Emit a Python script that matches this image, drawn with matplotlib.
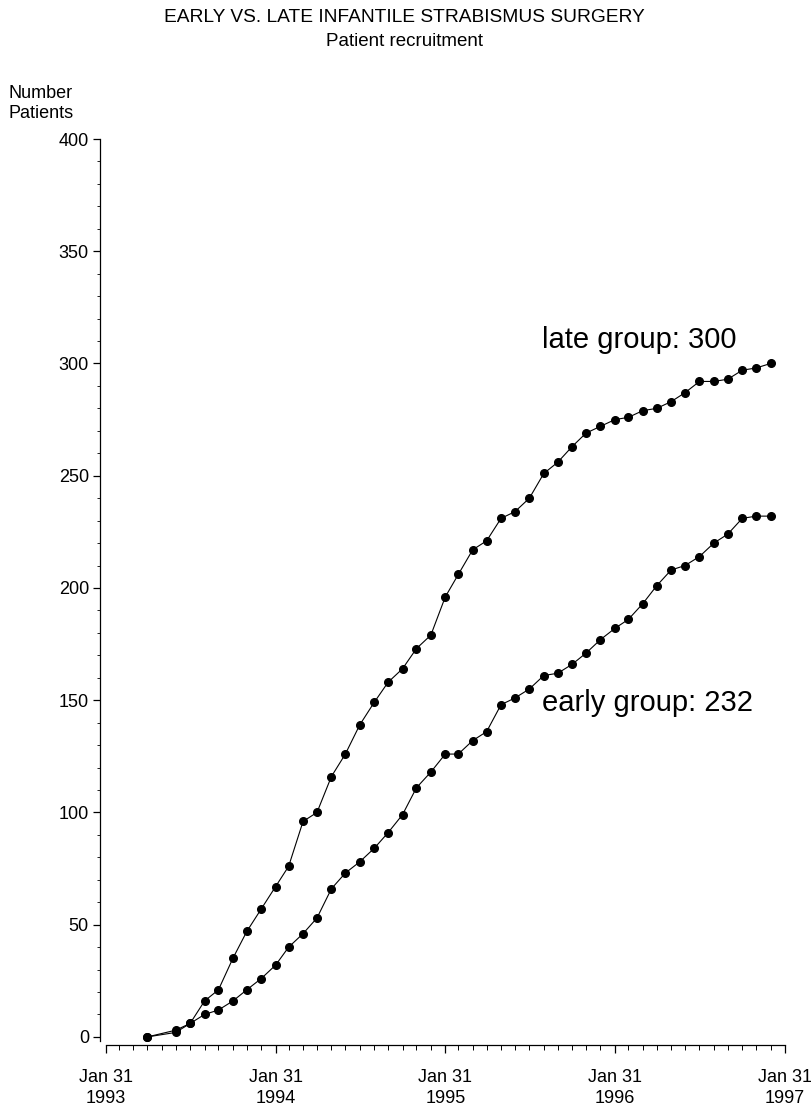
import matplotlib
matplotlib.use("Agg")
import matplotlib.pyplot as plt
import matplotlib.dates as mdates
from matplotlib.ticker import MultipleLocator
from matplotlib import font_manager as fm
import pandas as pd

# ---- data ----
months = ["1993-04", "1993-06", "1993-07", "1993-08", "1993-09", "1993-10",
          "1993-11", "1993-12", "1994-01", "1994-02", "1994-03", "1994-04",
          "1994-05", "1994-06", "1994-07", "1994-08", "1994-09", "1994-10",
          "1994-11", "1994-12", "1995-01", "1995-02", "1995-03", "1995-04",
          "1995-05", "1995-06", "1995-07", "1995-08", "1995-09", "1995-10",
          "1995-11", "1995-12", "1996-01", "1996-02", "1996-03", "1996-04",
          "1996-05", "1996-06", "1996-07", "1996-08", "1996-09", "1996-10",
          "1996-11", "1996-12"]
late_group = [0, 3, 6, 16, 21, 35, 47, 57, 67, 76, 96, 100, 116, 126, 139,
              149, 158, 164, 173, 179, 196, 206, 217, 221, 231, 234, 240,
              251, 256, 263, 269, 272, 275, 276, 279, 280, 283, 287, 292,
              292, 293, 297, 298, 300]
early_group = [0, 2, 6, 10, 12, 16, 21, 26, 32, 40, 46, 53, 66, 73, 78,
               84, 91, 99, 111, 118, 126, 126, 132, 136, 148, 151, 155,
               161, 162, 166, 171, 177, 182, 186, 193, 201, 208, 210, 214,
               220, 224, 231, 232, 232]
year_ticks = ["1993-01-31", "1994-01-31", "1995-01-31", "1996-01-31", "1997-01-31"]
year_labels = ["Jan 31\n1993", "Jan 31\n1994", "Jan 31\n1995", "Jan 31\n1996", "Jan 31\n1997"]
y_ticks = [0, 50, 100, 150, 200, 250, 300, 350, 400]
title = "EARLY VS. LATE INFANTILE STRABISMUS SURGERY"
subtitle = "Patient recruitment"
late_label = "late group: 300"
early_label = "early group: 232"

dates = pd.to_datetime(months) + pd.offsets.MonthEnd(0)
yt = pd.to_datetime(year_ticks)

# condensed sans if available, otherwise regular Liberation Sans
avail = {f.name for f in fm.fontManager.ttflist}
cond_names = {f.name for f in fm.fontManager.ttflist
              if f.stretch in ("condensed", "semi-condensed", 600, 500) or "Narrow" in f.name or "Condensed" in f.name}
if "Liberation Sans Narrow" in avail:
    narrow = ["Liberation Sans Narrow", "DejaVu Sans"]
    nstretch = "normal"
    nscale = 1.0
else:
    narrow = ["Liberation Sans", "DejaVu Sans"]
    nstretch = "normal"
    nscale = 1.0
regular = ["Liberation Sans", "DejaVu Sans"]

W, H = 811, 1106
fig = plt.figure(figsize=(W / 100, H / 100), dpi=100)
left, right = 106, 785
bottom_px, top_px = 1045, 139
ax = fig.add_axes([left / W, 1 - bottom_px / H, (right - left) / W, (bottom_px - top_px) / H])

for vals in (late_group, early_group):
    ax.plot(dates, vals, color="black", lw=0.8, marker="o", ms=5.5,
            mfc="black", mec="black", clip_on=False)

ax.set_xlim(yt[0], yt[-1])
ax.set_ylim(-3.6, 400)

ax.spines["top"].set_visible(False)
ax.spines["right"].set_visible(False)
ax.spines["left"].set_position(("outward", 4.3))
ax.spines["left"].set_bounds(-2.0, 400)
for s in ("left", "bottom"):
    ax.spines[s].set_linewidth(0.9)

ax.set_xticks(yt)
ax.set_xticklabels(year_labels, family=narrow, fontsize=13, linespacing=1.35)
ax.xaxis.set_minor_locator(mdates.MonthLocator(bymonthday=-1))
ax.tick_params(axis="x", which="major", direction="out", length=6, width=0.9, pad=11)
ax.tick_params(axis="x", which="minor", direction="out", length=3.5, width=0.7)

ax.set_yticks(y_ticks)
ax.set_yticklabels([str(v) for v in y_ticks], family=narrow, fontsize=13)
ax.yaxis.set_minor_locator(MultipleLocator(10))
ax.tick_params(axis="y", which="major", direction="out", length=5, width=0.9, pad=3)
ax.tick_params(axis="y", which="minor", direction="out", length=2.5, width=0.6)

ax.text(pd.Timestamp("1995-08-28"), 310.5, late_label, family=regular,
        fontsize=21, ha="left", va="center")
ax.text(pd.Timestamp("1995-08-28"), 148.8, early_label, family=regular,
        fontsize=21, ha="left", va="center")

fig.text(404 / W, 1 - 18 / H, title, family=narrow, fontsize=13.8,
         ha="center", va="center")
fig.text(404 / W, 1 - 42 / H, subtitle, family=narrow, fontsize=13.5,
         ha="center", va="center")
fig.text(8 / W, 1 - 94 / H, "Number", family=narrow, fontsize=13,
         ha="left", va="center")
fig.text(8 / W, 1 - 114 / H, "Patients", family=narrow, fontsize=13,
         ha="left", va="center")

fig.savefig("out.png", dpi=100, facecolor="white")
